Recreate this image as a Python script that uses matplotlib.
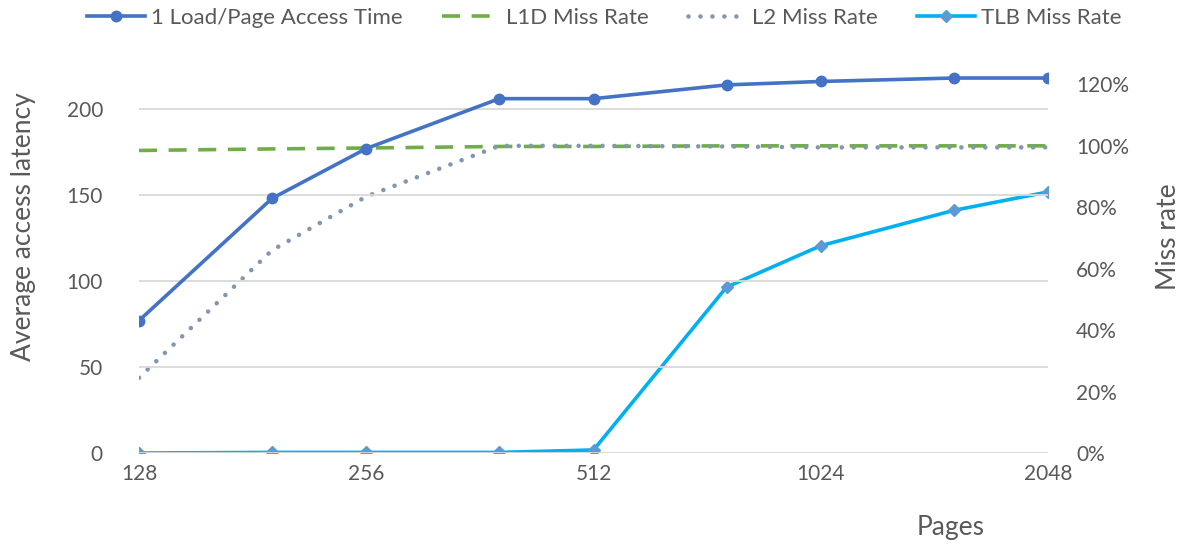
import matplotlib
matplotlib.use("Agg")
import matplotlib.pyplot as plt
from matplotlib.ticker import FuncFormatter, FixedLocator, NullLocator
from matplotlib.lines import Line2D

plt.rcParams['font.family'] = ['Lato', 'DejaVu Sans']

pages = [128, 192, 256, 384, 512, 768, 1024, 1536, 2048]
access_time = [77, 148, 177, 206, 206, 214, 216, 218, 218]
l1d_miss = [0.985, 0.99, 0.993, 0.998, 0.998, 1.0, 1.0, 1.0, 1.0]
l2_miss = [0.245, 0.66, 0.835, 1.0, 1.0, 0.998, 0.995, 0.995, 0.995]
tlb_miss = [0.0, 0.002, 0.002, 0.002, 0.01, 0.54, 0.675, 0.79, 0.85]

x_ticks = [128, 256, 512, 1024, 2048]
left_ticks = [0, 50, 100, 150, 200]
right_ticks = [0, 0.2, 0.4, 0.6, 0.8, 1.0, 1.2]

C_LOAD = '#4472C4'
C_L1D = '#70AD47'
C_L2 = '#8497B0'
C_TLB = '#00B0F0'
C_TLBM = '#5B9BD5'
TXT = '#595959'
GRID = '#D9D9D9'

fig = plt.figure(figsize=(11.85, 5.47), dpi=100)
ax = fig.add_axes([0.1173, 0.1718, 0.8675 - 0.1173 + 0.017, 0.958 - 0.1718])
ax2 = ax.twinx()

ax.set_xscale('log', base=2)
ax.set_xlim(128, 2048)
ax.set_ylim(0, 250)
ax2.set_ylim(0, 1.4)

ax.xaxis.set_major_locator(FixedLocator(x_ticks))
ax.xaxis.set_minor_locator(NullLocator())
ax.xaxis.set_major_formatter(FuncFormatter(lambda v, p: f"{int(round(v))}"))
ax.set_yticks(left_ticks)
ax2.set_yticks(right_ticks)
ax2.yaxis.set_major_formatter(FuncFormatter(lambda v, p: f"{int(round(v*100))}%"))

for a in (ax, ax2):
    for s in a.spines.values():
        s.set_visible(False)
    a.tick_params(length=0, colors=TXT, labelsize=15)
ax.tick_params(axis='y', pad=26)
ax.tick_params(axis='x', pad=8)
ax2.tick_params(axis='y', pad=20)

ax.grid(axis='y', color=GRID, linewidth=1.3)
ax.set_axisbelow(True)

L2_STYLE = (0, (0.01, 2.6))

# secondary series
l1d, = ax2.plot(pages, l1d_miss, color=C_L1D, linewidth=2.6, dashes=(5, 3.2), zorder=3)
l2, = ax2.plot(pages, l2_miss, color=C_L2, linewidth=3.3, linestyle=L2_STYLE,
               dash_capstyle='round', zorder=3)
tlb, = ax2.plot(pages, tlb_miss, color=C_TLB, linewidth=2.6, marker='D', markersize=6,
                markerfacecolor=C_TLBM, markeredgecolor=C_TLBM, zorder=4)

ax.set_zorder(ax2.get_zorder() + 1)
ax.patch.set_visible(False)
load, = ax.plot(pages, access_time, color=C_LOAD, linewidth=2.6, marker='o', markersize=7.5,
                markerfacecolor=C_LOAD, markeredgecolor=C_LOAD, zorder=5)

fig.text(0.02, 0.585, 'Average access latency', rotation=90, ha='center', va='center',
         fontsize=19, color=TXT)
fig.text(0.986, 0.567, 'Miss rate', rotation=90, ha='center', va='center',
         fontsize=19, color=TXT)
fig.text(0.802, 0.035, 'Pages', ha='center', va='center', fontsize=19, color=TXT)

h_load = Line2D([], [], color=C_LOAD, linewidth=2.6, marker='o', markersize=7.5)
h_l1d = Line2D([], [], color=C_L1D, linewidth=2.6, dashes=(5, 3.2))
h_l2 = Line2D([], [], color=C_L2, linewidth=3.3, linestyle=L2_STYLE, dash_capstyle='round')
h_tlb = Line2D([], [], color=C_TLB, linewidth=2.6, marker='D', markersize=6,
               markerfacecolor=C_TLBM, markeredgecolor=C_TLBM)
leg = fig.legend([h_load, h_l1d, h_l2, h_tlb],
                 ['1 Load/Page Access Time', 'L1D Miss Rate', 'L2 Miss Rate', 'TLB Miss Rate'],
                 loc='center', bbox_to_anchor=(0.51, 0.967), ncol=4, frameon=False,
                 fontsize=16, handlelength=2.6, handletextpad=0.25, columnspacing=1.8,
                 labelcolor=TXT)

fig.savefig('out.png', dpi=100)
